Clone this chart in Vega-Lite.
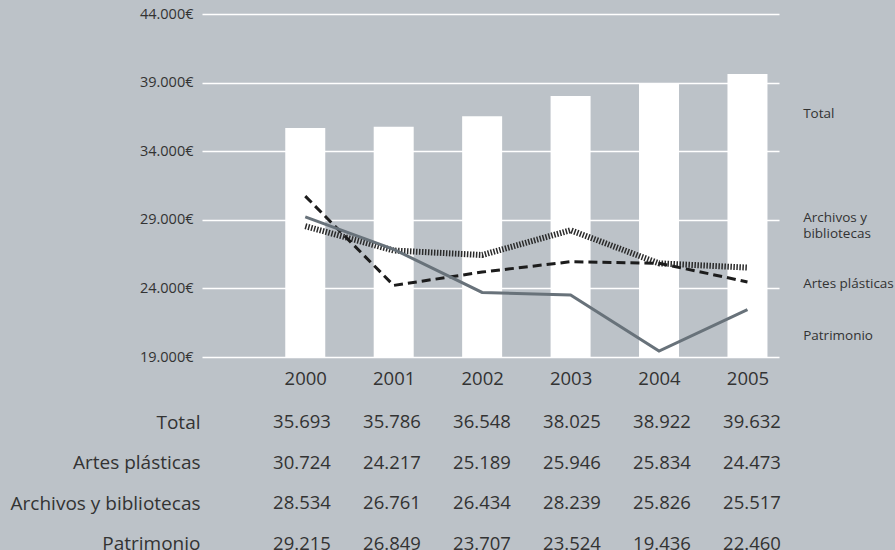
{
  "$schema": "https://vega.github.io/schema/vega-lite/v6.json",
  "background": "#bcc2c8",
  "padding": {"top": 6, "left": 10, "right": 6, "bottom": 0},
  "config": {
    "view": {"stroke": null},
    "font": "Open Sans",
    "locale": {"number": {"decimal": ",", "thousands": ".", "grouping": [3], "currency": ["", "€"]}},
    "axis": {"labelColor": "#333333", "labelFont": "Open Sans", "titleFont": "Open Sans"},
    "text": {"font": "Open Sans", "color": "#333333"}
  },
  "datasets": {
    "years": [
      {"year": 2000, "Total": 35693, "Artes plásticas": 30724, "Archivos y bibliotecas": 28534, "Patrimonio": 29215},
      {"year": 2001, "Total": 35786, "Artes plásticas": 24217, "Archivos y bibliotecas": 26761, "Patrimonio": 26849},
      {"year": 2002, "Total": 36548, "Artes plásticas": 25189, "Archivos y bibliotecas": 26434, "Patrimonio": 23707},
      {"year": 2003, "Total": 38025, "Artes plásticas": 25946, "Archivos y bibliotecas": 28239, "Patrimonio": 23524},
      {"year": 2004, "Total": 38922, "Artes plásticas": 25834, "Archivos y bibliotecas": 25826, "Patrimonio": 19436},
      {"year": 2005, "Total": 39632, "Artes plásticas": 24473, "Archivos y bibliotecas": 25517, "Patrimonio": 22460}
    ]
  },
  "vconcat": [
    {
      "width": 577,
      "height": 343,
      "data": {"name": "years"},
      "layer": [
        {
          "mark": {"type": "bar", "color": "#ffffff", "size": 40},
          "encoding": {
            "x": {
              "field": "year",
              "type": "quantitative",
              "scale": {"domain": [1998.889, 2005.3], "nice": false, "zero": false},
              "axis": {
                "title": null,
                "values": [2000, 2001, 2002, 2003, 2004, 2005],
                "format": "d",
                "domain": false,
                "ticks": false,
                "grid": false,
                "labelFontSize": 18.5,
                "labelPadding": 12,
                "labelFlush": false
              }
            },
            "y": {
              "field": "Total",
              "type": "quantitative",
              "scale": {"domain": [19000, 44000], "nice": false, "zero": false},
              "axis": {
                "title": null,
                "values": [19000, 24000, 29000, 34000, 39000, 44000],
                "format": "$,.0f",
                "domain": false,
                "ticks": false,
                "grid": true,
                "gridColor": "#ffffff",
                "gridWidth": 1.5,
                "gridOpacity": 1,
                "labelFontSize": 14.5,
                "labelPadding": 9
              }
            },
            "y2": {"datum": 19000}
          }
        },
        {
          "mark": {"type": "line", "color": "#2b2b2b", "strokeWidth": 6, "strokeDash": [1.5, 1.5]},
          "encoding": {"x": {"field": "year", "type": "quantitative"}, "y": {"field": "Archivos y bibliotecas", "type": "quantitative"}}
        },
        {
          "mark": {"type": "line", "color": "#1c1c1c", "strokeWidth": 3, "strokeDash": [9, 5]},
          "encoding": {"x": {"field": "year", "type": "quantitative"}, "y": {"field": "Artes plásticas", "type": "quantitative"}}
        },
        {
          "mark": {"type": "line", "color": "#68727a", "strokeWidth": 3},
          "encoding": {"x": {"field": "year", "type": "quantitative"}, "y": {"field": "Patrimonio", "type": "quantitative"}}
        },
        {
          "data": {"values": [{"label": "Total"}]},
          "mark": {"type": "text", "align": "left", "baseline": "middle", "fontSize": 13.5},
          "encoding": {"x": {"datum": 2005.63, "type": "quantitative"}, "y": {"datum": 36711, "type": "quantitative"}, "text": {"field": "label"}}
        },
        {
          "data": {"values": [{"label": "Archivos y\nbibliotecas"}]},
          "mark": {"type": "text", "align": "left", "baseline": "middle", "fontSize": 13.5, "lineBreak": "\n", "lineHeight": 16.5},
          "encoding": {"x": {"datum": 2005.63, "type": "quantitative"}, "y": {"datum": 29134, "type": "quantitative"}, "text": {"field": "label"}}
        },
        {
          "data": {"values": [{"label": "Artes plásticas"}]},
          "mark": {"type": "text", "align": "left", "baseline": "middle", "fontSize": 13.5},
          "encoding": {"x": {"datum": 2005.63, "type": "quantitative"}, "y": {"datum": 24300, "type": "quantitative"}, "text": {"field": "label"}}
        },
        {
          "data": {"values": [{"label": "Patrimonio"}]},
          "mark": {"type": "text", "align": "left", "baseline": "middle", "fontSize": 13.5},
          "encoding": {"x": {"datum": 2005.63, "type": "quantitative"}, "y": {"datum": 20500, "type": "quantitative"}, "text": {"field": "label"}}
        }
      ]
    },
    {
      "width": 577,
      "height": 162,
      "data": {"name": "years"},
      "transform": [
        {"fold": ["Total", "Artes plásticas", "Archivos y bibliotecas", "Patrimonio"], "as": ["serie", "valor"]}
      ],
      "mark": {"type": "text", "fontSize": 18.5, "baseline": "middle", "align": "center"},
      "encoding": {
        "x": {
          "field": "year",
          "type": "quantitative",
          "scale": {"domain": [1998.889, 2005.3], "nice": false, "zero": false},
          "axis": null
        },
        "y": {
          "field": "serie",
          "type": "nominal",
          "sort": ["Total", "Artes plásticas", "Archivos y bibliotecas", "Patrimonio"],
          "scale": {"paddingInner": 0, "paddingOuter": 0},
          "axis": {
            "title": null,
            "domain": false,
            "ticks": false,
            "labelFontSize": 19,
            "labelPadding": 2,
            "labelLimit": 300
          }
        },
        "text": {"field": "valor", "type": "quantitative", "format": ",.0f"}
      }
    }
  ],
  "spacing": 14
}
